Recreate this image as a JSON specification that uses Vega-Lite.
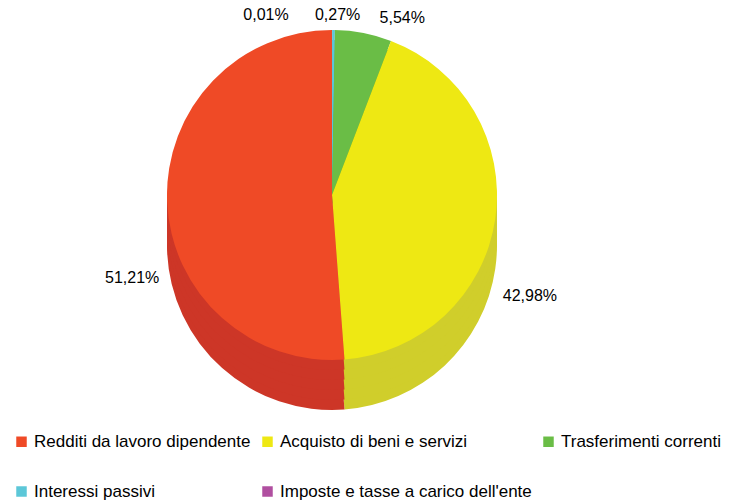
{
  "$schema": "https://vega.github.io/schema/vega-lite/v6.json",
  "width": 638,
  "height": 400,
  "padding": {"left": 13, "top": 0, "right": 0, "bottom": 0},
  "config": {
    "view": {"stroke": null},
    "font": "Liberation Sans",
    "locale": {"number": {"decimal": ",", "thousands": ".", "grouping": [3], "currency": ["€", ""]}}
  },
  "data": {
    "values": [
      {"voce": "Imposte e tasse a carico dell'ente", "quota": 0.0001, "ord": 1},
      {"voce": "Interessi passivi", "quota": 0.0027, "ord": 2},
      {"voce": "Trasferimenti correnti", "quota": 0.0554, "ord": 3},
      {"voce": "Acquisto di beni e servizi", "quota": 0.4298, "ord": 4},
      {"voce": "Redditi da lavoro dipendente", "quota": 0.5121, "ord": 5}
    ]
  },
  "encoding": {
    "theta": {"field": "quota", "type": "quantitative", "stack": true},
    "order": {"field": "ord", "type": "quantitative"}
  },
  "layer": [
    {"mark": {"type": "arc", "outerRadius": 165, "yOffset": 45}, "encoding": {"color": {"field": "voce", "type": "nominal", "legend": null, "scale": {"domain": ["Redditi da lavoro dipendente", "Acquisto di beni e servizi", "Trasferimenti correnti", "Interessi passivi", "Imposte e tasse a carico dell'ente"], "range": ["#CD3627", "#D0CE2B", "#58A23B", "#4EAAB9", "#923F85"]}}}},
    {"mark": {"type": "arc", "outerRadius": 165, "yOffset": 35}, "encoding": {"color": {"field": "voce", "type": "nominal", "legend": null, "scale": {"domain": ["Redditi da lavoro dipendente", "Acquisto di beni e servizi", "Trasferimenti correnti", "Interessi passivi", "Imposte e tasse a carico dell'ente"], "range": ["#CD3627", "#D0CE2B", "#58A23B", "#4EAAB9", "#923F85"]}}}},
    {"mark": {"type": "arc", "outerRadius": 165, "yOffset": 25}, "encoding": {"color": {"field": "voce", "type": "nominal", "legend": null, "scale": {"domain": ["Redditi da lavoro dipendente", "Acquisto di beni e servizi", "Trasferimenti correnti", "Interessi passivi", "Imposte e tasse a carico dell'ente"], "range": ["#CD3627", "#D0CE2B", "#58A23B", "#4EAAB9", "#923F85"]}}}},
    {"mark": {"type": "arc", "outerRadius": 165, "yOffset": 15}, "encoding": {"color": {"field": "voce", "type": "nominal", "legend": null, "scale": {"domain": ["Redditi da lavoro dipendente", "Acquisto di beni e servizi", "Trasferimenti correnti", "Interessi passivi", "Imposte e tasse a carico dell'ente"], "range": ["#CD3627", "#D0CE2B", "#58A23B", "#4EAAB9", "#923F85"]}}}},
    {"mark": {"type": "arc", "outerRadius": 165, "yOffset": 5}, "encoding": {"color": {"field": "voce", "type": "nominal", "legend": null, "scale": {"domain": ["Redditi da lavoro dipendente", "Acquisto di beni e servizi", "Trasferimenti correnti", "Interessi passivi", "Imposte e tasse a carico dell'ente"], "range": ["#CD3627", "#D0CE2B", "#58A23B", "#4EAAB9", "#923F85"]}}}},
    {
      "mark": {"type": "arc", "outerRadius": 165, "yOffset": -5},
      "encoding": {
        "color": {
          "field": "voce", "type": "nominal",
          "scale": {"domain": ["Redditi da lavoro dipendente", "Acquisto di beni e servizi", "Trasferimenti correnti", "Interessi passivi", "Imposte e tasse a carico dell'ente"], "range": ["#EF4A26", "#EEE813", "#6ABD46", "#5CC7D8", "#B04FA0"]},
          "legend": {
            "title": null, "orient": "bottom", "columns": 3, "gridAlign": "each",
            "columnPadding": 8, "rowPadding": 32, "offset": 33,
            "symbolType": "square", "symbolSize": 110, "symbolStrokeWidth": 0,
            "labelFontSize": 17, "labelColor": "#000000", "labelLimit": 320, "labelOffset": 4
          }
        }
      }
    },
    {
      "mark": {"type": "text", "radius": 200, "yOffset": -5, "dy": 75, "fontSize": 16, "color": "#000000"},
      "encoding": {"text": {"condition": {"test": "datum.ord == 5", "field": "quota", "type": "quantitative", "format": ".2%"}, "value": ""}}
    },
    {
      "mark": {"type": "text", "radius": 200, "yOffset": -5, "dy": 72, "fontSize": 16, "color": "#000000"},
      "encoding": {"text": {"condition": {"test": "datum.ord == 4", "field": "quota", "type": "quantitative", "format": ".2%"}, "value": ""}}
    },
    {
      "mark": {"type": "text", "radius": 180, "yOffset": -5, "dx": 36, "fontSize": 16, "color": "#000000"},
      "encoding": {"text": {"condition": {"test": "datum.ord == 3", "field": "quota", "type": "quantitative", "format": ".2%"}, "value": ""}}
    },
    {
      "mark": {"type": "text", "radius": 180, "yOffset": -5, "dx": 4, "fontSize": 16, "color": "#000000"},
      "encoding": {"text": {"condition": {"test": "datum.ord == 2", "field": "quota", "type": "quantitative", "format": ".2%"}, "value": ""}}
    },
    {
      "mark": {"type": "text", "radius": 180, "yOffset": -5, "dx": -66, "fontSize": 16, "color": "#000000"},
      "encoding": {"text": {"condition": {"test": "datum.ord == 1", "field": "quota", "type": "quantitative", "format": ".2%"}, "value": ""}}
    }
  ],
  "resolve": {"scale": {"color": "independent"}}
}
